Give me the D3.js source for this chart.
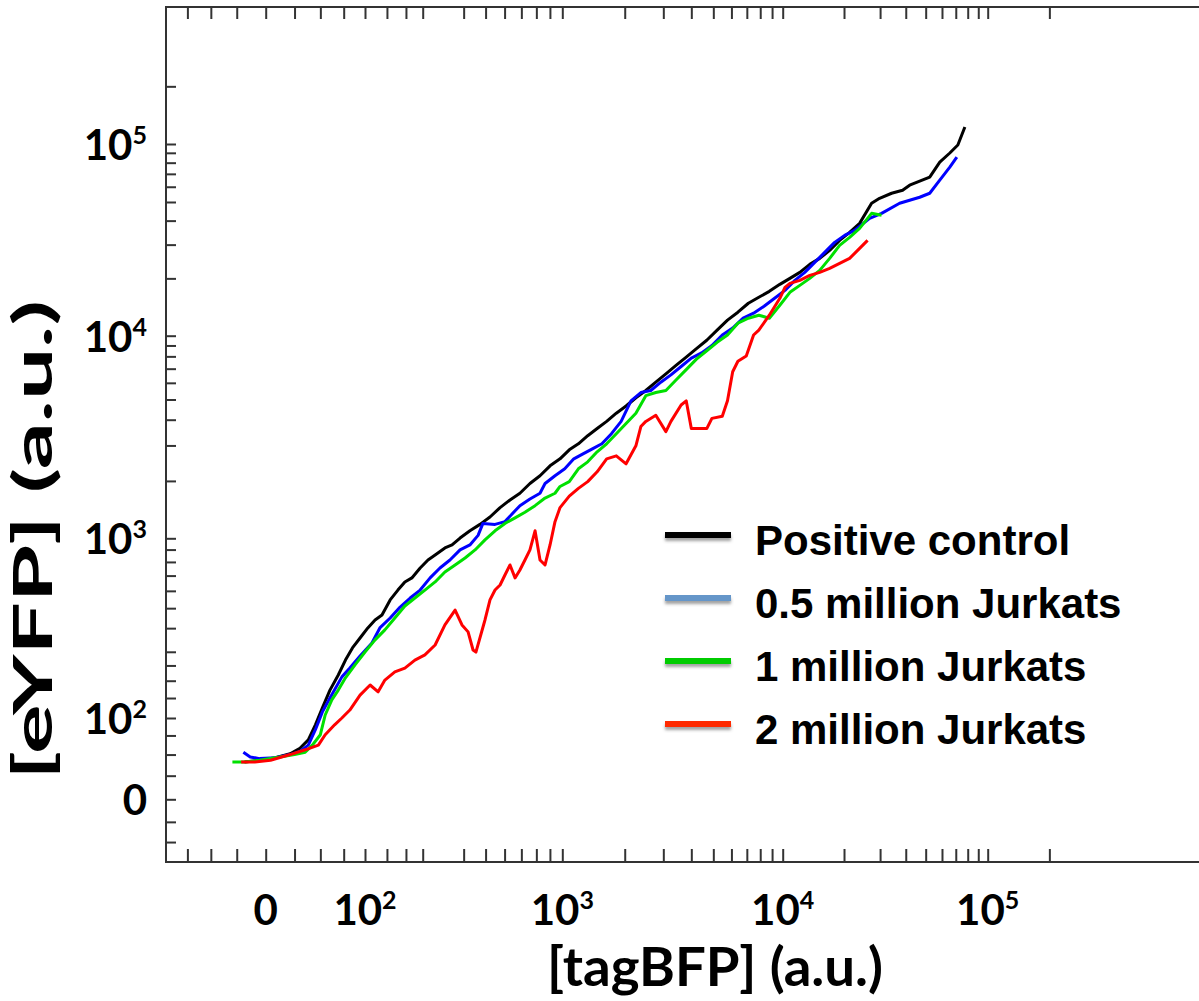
<!DOCTYPE html>
<html>
<head>
<meta charset="utf-8">
<title>eYFP vs tagBFP</title>
<script src="https://d3js.org/d3.v7.min.js"></script>
<style>
  body { margin: 0; background: #fff; }
  .lbl { font-family: Lato, "Open Sans", sans-serif; font-weight: 700; fill: #000; }
  .leg { font-family: "Liberation Sans", Arial, sans-serif; font-weight: 700; fill: #000; }
</style>
</head>
<body>
<div id="chart"></div>
<script>

// ---- data (a.u.) ----
var posBFP = [-18,-5,8,21,30,38,45,52,60,69,77,85,94,106,122,138,158,178,197,217,242,267,291,326,353,385,427,473,522,575,631,691,756,826,901,981,1084,1203,1336,1483,1646,1827,2029,2252,2500,2775,3081,3420,3797,4215,4679,5195,5767,6402,7107,7889,8758,9721,10854,12146,13591,15208,17012,19037,21302,23837,27270,29830,34135,38617,41783,46751,52310,58530,65490,71640,77500];
var posYFP = [41,43,46,51,58,69,90,124,172,218,269,315,356,401,439,464,546,605,657,684,754,815,855,914,940,1003,1099,1190,1303,1460,1599,1731,1940,2124,2380,2578,2855,3057,3347,3625,3925,4298,4654,5097,5519,6044,6620,7251,7940,8696,9524,10708,12074,13292,14814,15920,17108,18606,20000,21494,23660,25425,28000,31570,34750,38710,49220,52280,55510,57540,61110,64120,67290,80560,89800,98810,122660];

var halfBFP = [-19,-13,-5,8,21,30,38,45,52,60,73,82,94,115,133,158,184,212,242,274,308,345,385,427,464,487,548,602,643,691,756,826,863,940,1029,1142,1267,1407,1562,1734,1925,2138,2373,2634,2924,3246,3604,4000,4441,4930,5473,6076,6745,7488,8312,9228,10261,11482,12848,14377,16085,17996,20138,22534,26665,30505,37340,46751,52310,58530,65490,70830];
var halfYFP = [53,47,45,46,50,54,62,83,114,150,212,241,284,335,401,449,506,557,605,684,754,815,897,940,1038,1204,1190,1231,1350,1494,1617,1731,1940,2124,2300,2578,2728,2888,3057,3423,3925,4926,5395,5519,6044,6545,7169,7850,8309,8999,10085,10970,12368,13134,14290,15730,17314,19523,21494,24234,27331,30820,33520,35590,41110,43660,49220,52910,55510,64900,75860,85540];

var oneBFP = [-29,-18,-5,12,25,35,42,50,55,62,69,77,88,100,122,145,170,197,226,257,291,326,365,406,450,497,548,602,661,723,791,863,940,981,1084,1203,1336,1483,1646,1827,2029,2252,2500,2775,3081,3420,3797,4215,4679,5195,5767,6402,7107,7889,8758,9721,10854,12146,13591,15208,17012,19037,21302,23837,27270,30505];
var oneYFP = [41,41,43,47,50,53,62,76,107,145,172,209,252,299,348,392,449,512,557,605,657,725,777,831,897,985,1099,1204,1289,1380,1494,1636,1731,1875,1984,2300,2491,2791,3057,3423,3837,4298,5214,5395,5519,6183,6928,7760,8500,9309,10085,11647,12368,12823,12368,14463,16904,18385,20000,22015,25425,29730,32730,36450,43660,42630];

var twoBFP = [-21,-9,4,21,35,48,55,65,73,82,94,111,129,145,170,197,226,257,291,326,365,393,419,441,454,497,522,548,575,602,631,661,691,723,756,791,826,863,901,940,981,1084,1203,1336,1483,1646,1827,2029,2252,2373,2500,2775,3081,3246,3604,3797,4000,4679,4930,5473,5767,6076,6402,6960,7488,7889,8758,9721,10261,10854,12146,13591,15208,17012,19037,21302,23837,26071];
var twoYFP = [41,41,43,50,56,62,76,90,100,119,158,187,167,202,228,241,269,288,327,415,490,415,383,307,299,439,546,605,637,704,777,684,740,815,897,1099,815,777,940,1231,1460,1673,1833,1984,2223,2578,2667,2435,2988,3708,3925,4201,3502,3925,4707,4926,3625,3625,4060,4154,4926,6772,7586,8031,10085,10708,12823,15730,17947,18831,19523,20734,21494,22553,23943,25425,28680,31570];

var seriesNames = ["Positive control", "0.5 million Jurkats", "1 million Jurkats", "2 million Jurkats"];
var seriesColors = ["#000000", "#0000ff", "#00e000", "#ff0000"];
var legendColors = ["#000000", "#6596c9", "#00cc00", "#ff2a00"];

// axis ticks (a.u.) and labelled decades
var xTicks = [-75,-50,-25,0,25,50,75,100,150,200,250,400,500,600,700,800,900,1000,2000,3000,4000,5000,6000,7000,8000,9000,10000,20000,30000,40000,50000,60000,70000,80000,90000,100000,200000];
var yTicks = [-50,-25,0,25,50,75,100,150,200,250,300,400,500,600,700,800,900,1000,2000,3000,4000,5000,6000,7000,8000,9000,10000,20000,30000,40000,50000,60000,70000,80000,90000,100000,200000];
var labelValues = [0, 100, 1000, 10000, 100000];
var labelExps = ["", "2", "3", "4", "5"];

// ---- layout ----
var W = 1199, H = 1001;
var plotLeft = 166, plotTop = 7, plotBottom = 862;

var svg = d3.select("#chart").append("svg")
    .attr("width", W).attr("height", H);

var defs = svg.append("defs");
var f = defs.append("filter").attr("id", "shadow")
    .attr("x", "-20%").attr("y", "-100%").attr("width", "140%").attr("height", "300%");
f.append("feDropShadow").attr("dx", 0).attr("dy", 3).attr("stdDeviation", 1.6)
    .attr("flood-color", "#555").attr("flood-opacity", 0.55);

// biexponential-like axes: symlog, anchored per decade
var x = d3.scaleSymlog().constant(200)
    .domain([-100, 0, 100, 1e3, 1e4, 1e5, 1e6])
    .range([plotLeft, 265.7, 365, 562.3, 782.7, 987.7, 1192.7]);

var y = d3.scaleSymlog().constant(200)
    .domain([-75, 0, 100, 1e3, 1e4, 1e5, 1e6])
    .range([860.3, 799.3, 718, 538.3, 335.7, 144, -47.7]);

// frame (left, top, bottom; right side runs off the picture)
svg.append("path")
    .attr("d", "M" + W + "," + plotTop + "H" + plotLeft + "V" + plotBottom + "H" + W)
    .attr("fill", "none").attr("stroke", "#333").attr("stroke-width", 2);

function noDomain(g) {
  g.select(".domain").remove();
  g.selectAll(".tick line").attr("stroke", "#333").attr("stroke-width", 2);
}

svg.append("g").attr("transform", "translate(0," + plotBottom + ")")
  .call(d3.axisBottom(x).tickValues(xTicks).tickSize(-13).tickFormat(""))
  .call(noDomain);
svg.append("g").attr("transform", "translate(0," + plotTop + ")")
  .call(d3.axisTop(x).tickValues(xTicks).tickSize(-12).tickFormat(""))
  .call(noDomain);
svg.append("g").attr("transform", "translate(" + plotLeft + ",0)")
  .call(d3.axisLeft(y).tickValues(yTicks).tickSize(-10).tickFormat(""))
  .call(noDomain);

// tick labels: 0, 10^2 ... 10^5
function addLabel(t, i) {
  if (labelExps[i] === "") {
    t.append("tspan").text("0");
  } else {
    t.append("tspan").text("10");
    t.append("tspan").attr("dy", -16).attr("font-size", 25).text(labelExps[i]);
  }
}

svg.append("g").selectAll("text").data(labelValues).join("text")
  .attr("class", "lbl").attr("font-size", 42)
  .attr("text-anchor", "middle")
  .attr("x", function(d) { return x(d); })
  .attr("y", 925)
  .each(function(d, i) { addLabel(d3.select(this), i); });

svg.append("g").selectAll("text").data(labelValues).join("text")
  .attr("class", "lbl").attr("font-size", 42)
  .attr("text-anchor", "end")
  .attr("x", 147)
  .attr("y", function(d) { return y(d) + 16; })
  .each(function(d, i) { addLabel(d3.select(this), i); });

// axis titles
svg.append("text").attr("class", "lbl").attr("font-size", 54)
  .attr("text-anchor", "middle")
  .attr("x", 715).attr("y", 986)
  .attr("textLength", 336).attr("lengthAdjust", "spacingAndGlyphs")
  .text("[tagBFP] (a.u.)");

svg.append("text").attr("class", "lbl").attr("font-size", 54)
  .attr("text-anchor", "middle")
  .attr("transform", "translate(52,540) rotate(-90)")
  .attr("textLength", 480).attr("lengthAdjust", "spacingAndGlyphs")
  .text("[eYFP] (a.u.)");

// curves
var series = [
  {bfp: posBFP, yfp: posYFP},
  {bfp: halfBFP, yfp: halfYFP},
  {bfp: oneBFP, yfp: oneYFP},
  {bfp: twoBFP, yfp: twoYFP}
];

var line = d3.line()
  .x(function(d) { return x(d[0]); })
  .y(function(d) { return y(d[1]); });

svg.append("g").selectAll("path").data(series).join("path")
  .attr("fill", "none")
  .attr("stroke", function(d, i) { return seriesColors[i]; })
  .attr("stroke-width", 3)
  .attr("stroke-linejoin", "round")
  .attr("d", function(s) { return line(d3.zip(s.bfp, s.yfp)); });

// legend
var leg = svg.append("g").attr("transform", "translate(665,535)");
var rows = leg.selectAll("g").data(seriesNames).join("g")
  .attr("transform", function(d, i) { return "translate(0," + (i * 63) + ")"; });
rows.append("rect")
  .attr("x", 0).attr("y", -3).attr("width", 66).attr("height", 6)
  .attr("fill", function(d, i) { return legendColors[i]; })
  .attr("filter", "url(#shadow)");
rows.append("text").attr("class", "leg")
  .attr("font-size", 42)
  .attr("x", 90).attr("y", 20)
  .text(function(d) { return d; });

</script>
</body>
</html>
